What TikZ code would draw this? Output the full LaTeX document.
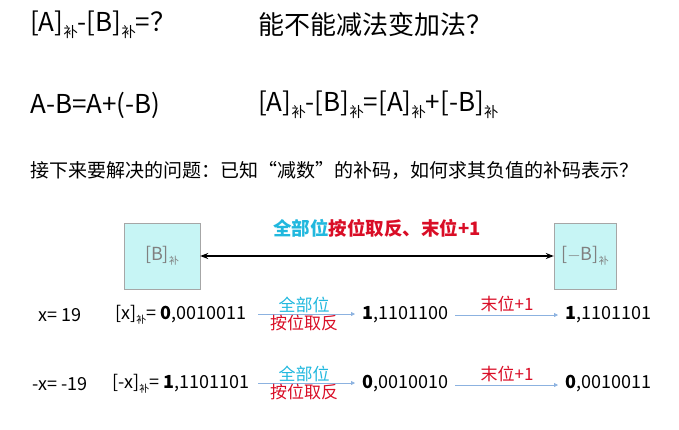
\documentclass[tikz,border=0pt]{standalone}
\usepackage{fontspec}
\setmainfont{Noto Sans CJK SC}
\usetikzlibrary{arrows.meta}
\definecolor{bucyan}{rgb}{0.13,0.72,0.87}
\definecolor{bured}{rgb}{0.85,0.05,0.15}
\definecolor{boxfill}{rgb}{0.78,0.96,0.96}
\definecolor{lnblue}{rgb}{0.55,0.70,0.88}
\newcommand{\bu}{\raisebox{-0.45ex}{\fontsize{0.55em}{1em}\selectfont 补}}
\tikzset{
  big/.style={anchor=west,inner sep=0pt,font=\fontsize{26}{30}\selectfont},
  row/.style={anchor=west,inner sep=0pt,font=\fontsize{18}{21}\selectfont},
  bbox/.style={draw=gray!70,fill=boxfill,minimum width=76pt,minimum height=66pt,text=gray,font=\fontsize{18}{21}\selectfont},
  thin arrow/.style={draw=lnblue,line width=0.8pt,-{Triangle[length=4pt,width=4pt]}},
  lab/.style={inner sep=1pt,font=\fontsize{17}{20}\selectfont}
}
\begin{document}
\begin{tikzpicture}[x=1pt,y=-1pt]
\useasboundingbox (0,0) rectangle (679,429);
% formulas
\node[big] (q1) at (30,25) {[A]\bu-[B]\bu=？};
\node[big] (q2) at (258,25) {能不能减法变加法？};
\node[big] (f1) at (30,105) {A-B=A+(-B)};
\node[big] (f2) at (258,105) {[A]\bu-[B]\bu=[A]\bu+[-B]\bu};
\node[anchor=west,inner sep=0pt,font=\fontsize{19}{22}\selectfont] (ask) at (30,170)
  {接下来要解决的问题：已知“减数”的补码，如何求其负值的补码表示？};
% boxes
\node[bbox] (b) at (162,256) {[B]\bu};
\node[bbox,minimum width=62pt] (nb) at (585,256) {[$-$B]\bu};
\draw[line width=1.2pt,{Stealth[length=8pt]}-{Stealth[length=8pt]}] (b) -- (nb)
  node[midway,above=15pt,font=\bfseries\fontsize{18.5}{22}\selectfont]
  {\textcolor{bucyan}{全部位}\textcolor{bured}{按位取反、末位+1}};
% row x
\node[row] (x) at (38,315) {x= 19};
\node[row] (xb) at (115,315) {[x]\bu= \textbf{0},0010011};
\node[row] (x1) at (362,315) {\textbf{1},1101100};
\node[row] (x2) at (565,315) {\textbf{1},1101101};
\draw[thin arrow] (258,314) coordinate (xa) -- (355,314) coordinate (xe);
\node[lab,text=bucyan,above] at (304,314) {全部位};
\node[lab,text=bured,below] at (304,314) {按位取反};
\draw[thin arrow] (455,315) coordinate (xc) -- (558,315) coordinate (xd);
\node[lab,text=bured,above] at (507,313) {末位+1};
% row -x
\node[row] (y) at (32,384) {-x= -19};
\node[row] (yb) at (112,384) {[-x]\bu= \textbf{1},1101101};
\node[row] (y1) at (362,384) {\textbf{0},0010010};
\node[row] (y2) at (565,384) {\textbf{0},0010011};
\draw[thin arrow] (258,383) coordinate (ya) -- (355,383) coordinate (ye);
\node[lab,text=bucyan,above] at (304,383) {全部位};
\node[lab,text=bured,below] at (304,383) {按位取反};
\draw[thin arrow] (455,385) coordinate (yc) -- (558,385) coordinate (yd);
\node[lab,text=bured,above] at (507,383) {末位+1};
\end{tikzpicture}
\end{document}
